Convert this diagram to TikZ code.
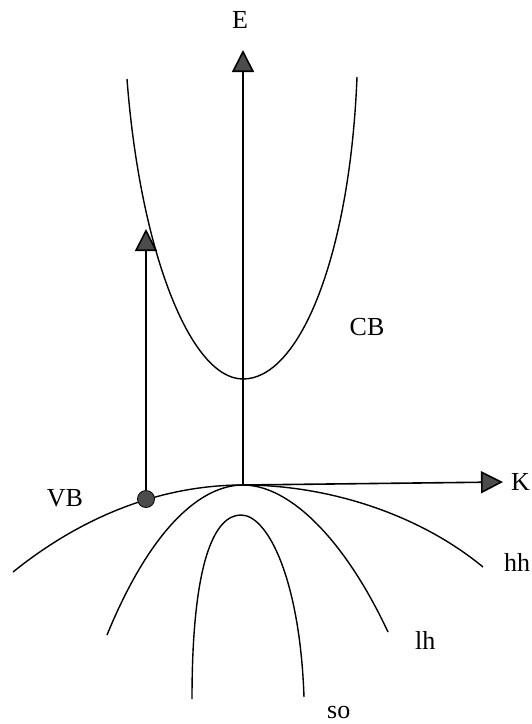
\documentclass[tikz,border=0pt]{standalone}
\usepackage{fontspec}
\setmainfont{Liberation Serif}
\usepackage{tikz}
\usetikzlibrary{arrows.meta}

\begin{document}
\begin{tikzpicture}[
      x=1pt,y=-1pt,
      axisLine/.style={line width=1.6pt,
                       -{Triangle[width=22pt,length=22pt,fill=black!70]}},
      bandLine/.style={line width=1.4pt},
      bandLabel/.style={font=\fontsize{26}{28}\selectfont,inner sep=0pt}
    ]
    \useasboundingbox (0,0) rectangle (532,724);

    % Axes
    \coordinate (O) at (243,485);
    \coordinate (Etip) at (243,50);
    \coordinate (Ktip) at (503,482);
    \draw[axisLine] (O) -- (Etip);
    \draw[axisLine] (O) -- (Ktip);
    \node(E)[bandLabel] at (240,20) {E};
    \node(K)[bandLabel,anchor=west] at (511,482) {K};

    % Conduction band
    \draw[bandLine] (127,79) .. controls (140,250) and (190,379) .. (243,379)
                             .. controls (300,379) and (350,255) .. (357,77);
    \node(CB)[bandLabel] at (367,327) {CB};

    % Valence bands: heavy hole, light hole, split-off
    \draw[bandLine] (13,572) .. controls (90,510) and (170,485) .. (O)
                             .. controls (330,485) and (420,515) .. (483,567);
    \draw[bandLine] (107,635) .. controls (150,530) and (200,485) .. (O)
                              .. controls (290,485) and (345,540) .. (388,632);
    \draw[bandLine] (192,699) .. controls (192,560) and (215,515) .. (241,515)
                              .. controls (268,515) and (300,580) .. (304,697);
    \node(VB)[bandLabel] at (65,498) {VB};
    \node(hh)[bandLabel,anchor=west] at (504,562) {hh};
    \node(lh)[bandLabel,anchor=west] at (415,640) {lh};
    \node(so)[bandLabel,anchor=west] at (327,712) {so};

    % Optical transition
    \node(dot)[circle,draw,fill=black!70,line width=0.8pt,
               minimum size=17pt,inner sep=0pt] at (146,499) {};
    \coordinate (up) at (146,229);
    \draw[axisLine] (dot) -- (up);
  \end{tikzpicture}
\end{document}
